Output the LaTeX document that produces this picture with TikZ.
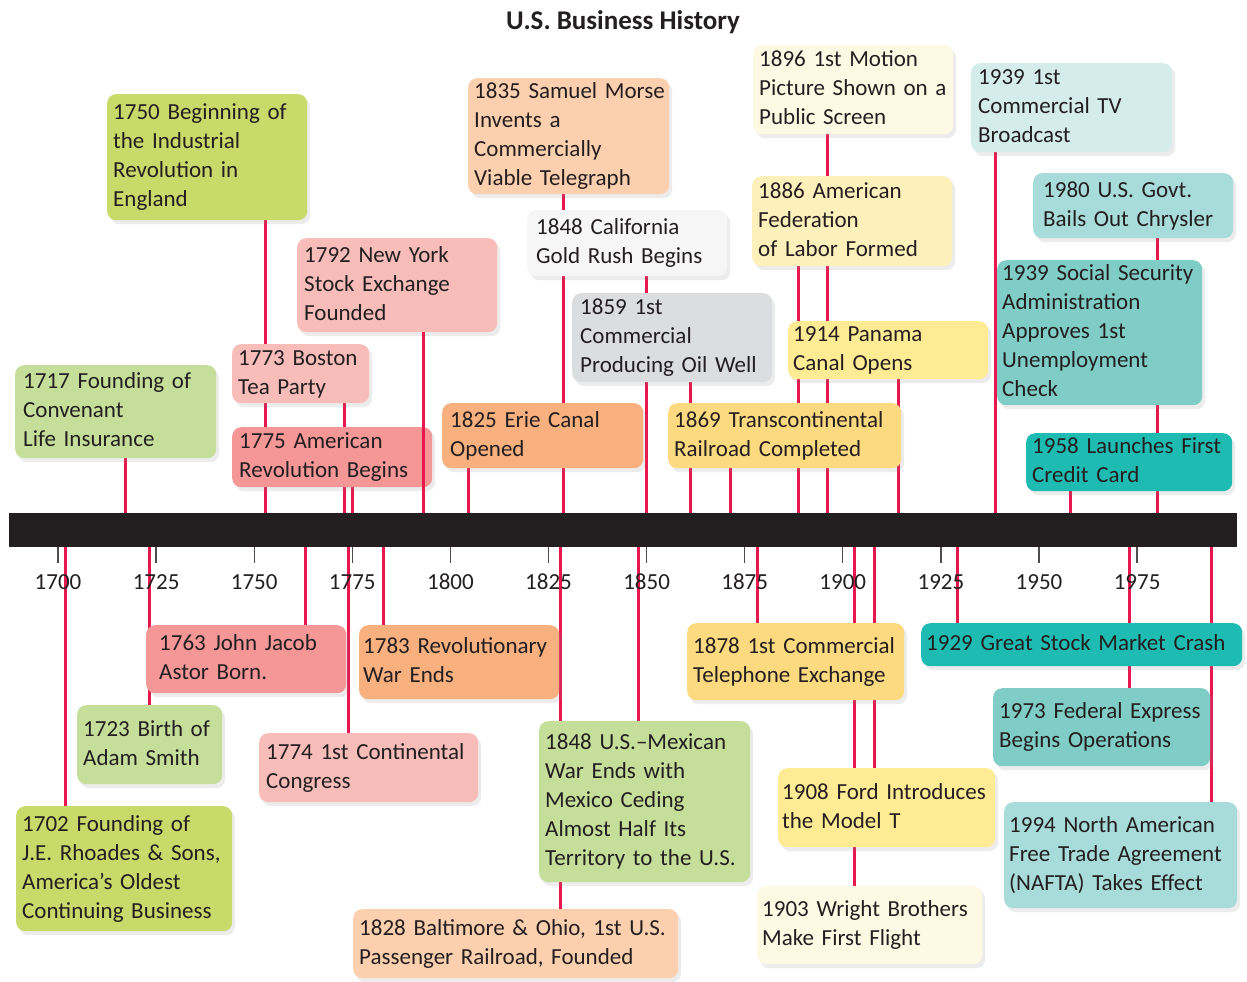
\documentclass[tikz,border=0pt]{standalone}
\usepackage{fontspec}
\setmainfont{Carlito}
\usetikzlibrary{backgrounds,shadows}
\definecolor{inkdark}{HTML}{231F20}
\definecolor{tiered}{HTML}{E8184F}
\definecolor{evlime}{HTML}{C8DA6A}
\definecolor{evsage}{HTML}{C5DF9A}
\definecolor{evpink}{HTML}{F8BDB9}
\definecolor{evsalmon}{HTML}{F59797}
\definecolor{evorange}{HTML}{F8B07F}
\definecolor{evpeach}{HTML}{FCCFAE}
\definecolor{evsnow}{HTML}{F6F6F6}
\definecolor{evgrey}{HTML}{DCDDDF}
\definecolor{evgold}{HTML}{FDDA7F}
\definecolor{evbutter}{HTML}{FEF0BB}
\definecolor{evcream}{HTML}{FEF9E2}
\definecolor{evyellow}{HTML}{FEEB93}
\definecolor{evmint}{HTML}{D4ECEA}
\definecolor{evaqua}{HTML}{A8DCDA}
\definecolor{evteal}{HTML}{7FCDC6}
\definecolor{evdeep}{HTML}{1DBBB2}
\newcommand\evtfont{\fontsize{23}{29}\selectfont}

\begin{document}
\begin{tikzpicture}[
      x=1pt,y=-1pt,
      evt/.style={anchor=north west, rounded corners=9pt, inner ysep=0pt, align=left,
        text=inkdark, font=\evtfont, execute at begin node=\strut, execute at end node=\strut,
        drop shadow={opacity=.15, shadow xshift=3pt, shadow yshift=-4pt}},
      sz/.code n args={3}{\pgfmathsetmacro\evw{#1-2*#3}%
        \tikzset{minimum width=#1pt, minimum height=#2pt, inner xsep=#3pt, text width=\evw pt}},
      tie/.style={draw=tiered, line width=3pt},
      tick/.style={draw=inkdark!80, line width=1.3pt},
      yrlab/.style={font=\evtfont, text=inkdark}
    ]
      \useasboundingbox (0,0) rectangle (1247,982);
      \node[font=\bfseries\fontsize{27}{32}\selectfont, text=inkdark] (title) at (623,22) {U.S. Business History};
      \node[fill=inkdark, anchor=north west, inner sep=0pt, minimum width=1228pt, minimum height=34pt] (bar) at (9,513) {};
      \foreach \yr in {1700,1725,...,1975}{
        \pgfmathsetmacro\tx{58+(\yr-1700)*3.924}
        \draw[tick] (\tx,0 |- bar.south) -- ++(0,16);
        \node[yrlab] (y\yr) at (\tx,582) {\yr};
      }
      % above the bar
      \node[evt, fill=evlime, sz={200}{126}{6}] (e1750) at (107,94) {1750 Beginning of\\the Industrial\\Revolution in\\England};
      \node[evt, fill=evsage, sz={201}{93}{8}] (e1717) at (15,365) {1717 Founding of\\Convenant\\Life Insurance};
      \node[evt, fill=evpink, sz={137}{59}{6}] (e1773) at (232,344) {1773~Boston\\Tea Party};
      \node[evt, fill=evsalmon, sz={200}{60}{7}] (e1775) at (232,427) {1775 American\\Revolution Begins};
      \node[evt, fill=evpink, sz={200}{94}{7}] (e1792) at (297,238) {1792 New York\\Stock Exchange\\Founded};
      \node[evt, fill=evorange, sz={201}{65}{8}] (e1825) at (442,403) {1825 Erie Canal\\Opened};
      \node[evt, fill=evpeach, sz={201}{116}{6}] (e1835) at (468,78) {1835~Samuel~Morse\\Invents a\\Commercially\\Viable Telegraph};
      \node[evt, fill=evsnow, sz={200}{66}{9}] (e1848c) at (527,210) {1848 California\\Gold Rush Begins};
      \node[evt, fill=evgrey, sz={200}{89}{8}] (e1859) at (572,293) {1859 1st\\Commercial\\Producing Oil Well};
      \node[evt, fill=evgold, sz={233}{65}{6}] (e1869) at (668,403) {1869~Transcontinental\\Railroad Completed};
      \node[evt, fill=evbutter, sz={200}{90}{6}] (e1886) at (752,176) {1886 American\\Federation\\of Labor Formed};
      \node[evt, fill=evcream, sz={200}{89}{6}] (e1896) at (753,45) {1896 1st Motion\\Picture~Shown~on~a\\Public Screen};
      \node[evt, fill=evyellow, sz={200}{58}{5}] (e1914) at (788,321) {1914 Panama\\Canal Opens};
      \node[evt, fill=evmint, sz={201}{89}{7}] (e1939t) at (971,63) {1939 1st\\Commercial TV\\Broadcast};
      \node[evt, fill=evaqua, sz={200}{65}{10}] (e1980) at (1033,173) {1980 U.S. Govt.\\Bails Out Chrysler};
      \node[evt, fill=evteal, sz={205}{143}{5}] (e1939s) at (997,260) {1939~Social~Security\\Administration\\Approves 1st\\Unemployment\\Check};
      \node[evt, fill=evdeep, sz={206}{56}{6}] (e1958) at (1026,433) {1958~Launches~First\\Credit Card};
      % below the bar
      \node[evt, fill=evsalmon, sz={200}{68}{13}] (e1763) at (146,625) {1763 John Jacob\\Astor Born.};
      \node[evt, fill=evsage, sz={145}{79}{6}] (e1723) at (77,705) {1723 Birth of\\Adam Smith};
      \node[evt, fill=evlime, sz={216}{125}{6}] (e1702) at (16,806) {1702 Founding of\\J.E.~Rhoades~\&~Sons,\\America's Oldest\\Continuing~Business};
      \node[evt, fill=evpink, sz={219}{69}{7}] (e1774) at (259,733) {1774~1st~Continental\\Congress};
      \node[evt, fill=evorange, sz={200}{74}{4}] (e1783) at (359,625) {1783~Revolutionary\\War Ends};
      \node[evt, fill=evpeach, sz={325}{69}{6}] (e1828) at (353,909) {1828~Baltimore~\&~Ohio,~1st~U.S.\\Passenger~Railroad,~Founded};
      \node[evt, fill=evsage, sz={211}{161}{6}] (e1848m) at (539,721) {1848 U.S.--Mexican\\War Ends with\\Mexico Ceding\\Almost Half Its\\Territory~to~the~U.S.};
      \node[evt, fill=evgold, sz={217}{77}{6}] (e1878) at (687,623) {1878~1st~Commercial\\Telephone~Exchange};
      \node[evt, fill=evdeep, sz={321}{43}{5}] (e1929) at (921,623) {1929~Great~Stock~Market~Crash};
      \node[evt, fill=evteal, sz={217}{78}{6}] (e1973) at (993,688) {1973~Federal~Express\\Begins Operations};
      \node[evt, fill=evyellow, sz={217}{79}{4}] (e1908) at (778,768) {1908~Ford~Introduces\\the Model T};
      \node[evt, fill=evcream, sz={225}{78}{5}] (e1903) at (757,886) {1903~Wright~Brothers\\Make First Flight};
      \node[evt, fill=evaqua, sz={233}{106}{5}] (e1994) at (1004,802) {1994 North American\\Free~Trade~Agreement\\(NAFTA)~Takes~Effect};
      \begin{scope}[on background layer]
        \fill[white] (0,0) rectangle (1247,982);
        \foreach \lx/\nd in {125/e1717,265/e1750,344/e1773,352/e1775,468/e1825,563/e1835,646/e1848c,690/e1859,
            730/e1869,798/e1886,827/e1896,898/e1914,995/e1939t,1070/e1958,1157/e1980}
          \draw[tie] (\lx,0 |- \nd.south) -- (\lx,0 |- bar.north);
        \foreach \lx/\nd in {65/e1702,149/e1723,305/e1763,348/e1774,383/e1783,560/e1828,638/e1848m,757/e1878,
            854/e1903,874/e1908,957/e1929,1129/e1973,1211/e1994}
          \draw[tie] (\lx,0 |- bar.south) -- (\lx,0 |- \nd.north);
      \end{scope}
      \draw[tie] (423,0 |- e1792.south) -- (423,0 |- bar.north);
    \end{tikzpicture}
\end{document}
